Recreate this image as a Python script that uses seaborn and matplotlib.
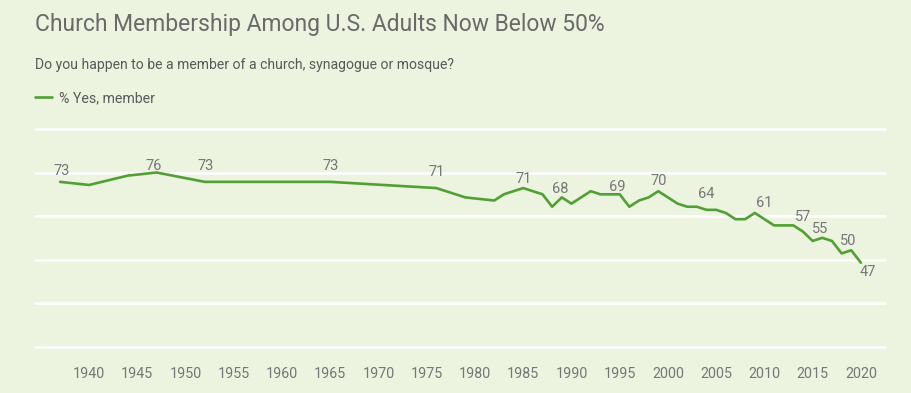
import matplotlib
matplotlib.use("Agg")
import matplotlib.pyplot as plt
import seaborn as sns
import pandas as pd

# % of U.S. adults who are members of a church, synagogue or mosque
years = [1937, 1940, 1944, 1947, 1952, 1965, 1976, 1979, 1982, 1983,
         1985, 1987, 1988, 1989, 1990, 1992, 1993, 1994, 1995, 1996,
         1997, 1998, 1999, 2000, 2001, 2002, 2003, 2004, 2005, 2006,
         2007, 2008, 2009, 2010, 2011, 2012, 2013, 2014, 2015, 2016,
         2017, 2018, 2019, 2020]
members = [73, 72, 75, 76, 73, 73, 71, 68, 67, 69,
           71, 69, 65, 68, 66, 70, 69, 69, 69, 65,
           67, 68, 70, 68, 66, 65, 65, 64, 64, 63,
           61, 61, 63, 61, 59, 59, 59, 57, 54, 55,
           54, 50, 51, 47]

label_years = [1937, 1947, 1952, 1965, 1976, 1985, 1989, 1995, 1999, 2004,
               2010, 2014, 2016, 2019, 2020]
label_texts = ["73", "76", "73", "73", "71", "71", "68", "69", "70", "64",
               "61", "57", "55", "50", "47"]
# label offsets from the line, in pixels
label_dx = [2, -3, 1, 0, 0, 0, -2, -2, 0, 0, 0, 0, -2, -3, 7]
label_dy = [11, 7, 16, 16, 16, 9, 8, 7, 10, 16, 16, 15, 9, 9, -9]

x_ticks = list(range(1940, 2021, 5))
y_grid = [20, 34, 48, 62, 76, 90]

BG = "#ECF3DF"
GREEN = "#52A035"

df = pd.DataFrame({"year": years, "pct": members})

sns.set_style("white")
plt.rcParams["font.family"] = ["Roboto", "DejaVu Sans"]

fig = plt.figure(figsize=(9.12, 3.93), dpi=100)
fig.patch.set_facecolor(BG)
ax = fig.add_axes([0.0384, 0.1178, 0.9320, 0.5540])
ax.set_facecolor(BG)

sns.lineplot(data=df, x="year", y="pct", ax=ax, color=GREEN, linewidth=1.9,
             label="% Yes, member", legend=False)

for yr, txt, dx, dy in zip(label_years, label_texts, label_dx, label_dy):
    val = members[years.index(yr)]
    ax.annotate(txt, xy=(yr, val), xytext=(dx, dy), textcoords="offset pixels",
                ha="center", va="center", fontsize=10.5, color="#777777")

ax.set_xlim(1934.4, 2022.5)
ax.set_ylim(20, 90)
ax.set_yticks(y_grid)
ax.set_yticklabels([])
ax.set_xticks(x_ticks)
ax.set_xticklabels([str(t) for t in x_ticks])
ax.grid(axis="y", color="white", linewidth=1.8)
for gl in ax.get_ygridlines():
    gl.set_clip_on(False)
ax.set_axisbelow(True)
for s in ax.spines.values():
    s.set_visible(False)
ax.tick_params(axis="y", length=0)
ax.tick_params(axis="x", length=9.5, width=1.5, color="white", pad=5,
               labelsize=10.3, labelcolor="#767676")
ax.set_xlabel("")
ax.set_ylabel("")

fig.text(0.0384, 0.938, "Church Membership Among U.S. Adults Now Below 50%",
         fontsize=16.5, color="#6A6A6A", va="center", ha="left")
fig.text(0.0384, 0.835, "Do you happen to be a member of a church, synagogue or mosque?",
         fontsize=10.1, color="#5A5A5A", va="center", ha="left")
handles, labels = ax.get_legend_handles_labels()
fig.legend(handles, labels, loc="center left", bbox_to_anchor=(0.0384, 0.750),
           frameon=False, handlelength=1.2, handletextpad=0.5, fontsize=10.2,
           borderpad=0, borderaxespad=0, labelcolor="#5A5A5A")

fig.savefig("out.png", dpi=100, facecolor=BG)
